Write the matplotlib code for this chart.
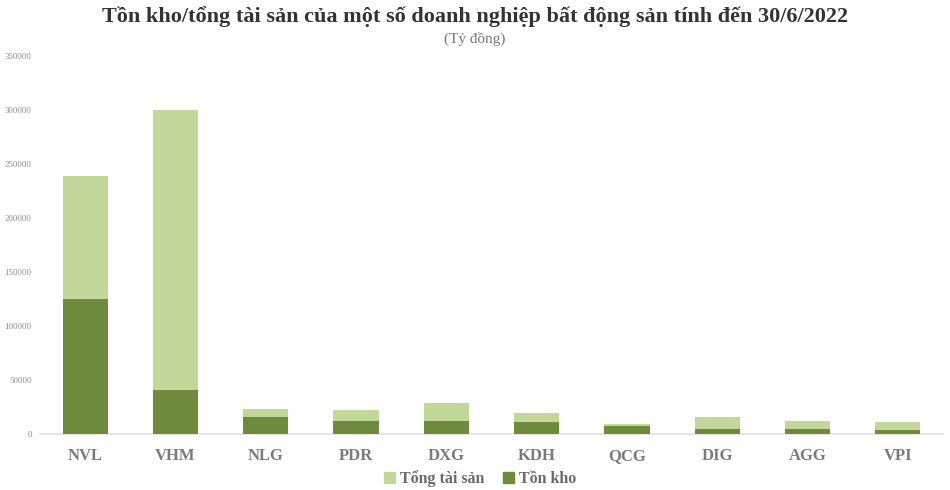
import matplotlib
matplotlib.use("Agg")
import matplotlib.pyplot as plt
from matplotlib.patches import Patch

categories = ["NVL", "VHM", "NLG", "PDR", "DXG", "KDH", "QCG", "DIG", "AGG", "VPI"]
tong_tai_san = [239000, 300000, 23000, 22000, 29000, 19000, 9000, 15500, 12300, 10800]
ton_kho = [125000, 41000, 16000, 12500, 12000, 11500, 7000, 4700, 4800, 3700]
yticks = [0, 50000, 100000, 150000, 200000, 250000, 300000, 350000]

light = "#c4d79b"
dark = "#6e8b3d"
serif = ["Liberation Serif", "DejaVu Serif"]

fig = plt.figure(figsize=(9.5, 4.9), dpi=100)
ax = fig.add_axes([40/950, 56/490, 903/950, 378/490])

x = list(range(len(categories)))
ax.bar(x, tong_tai_san, width=0.5, color=light, zorder=2)
ax.bar(x, ton_kho, width=0.5, color=dark, zorder=3)

ax.set_xlim(-0.5, len(categories) - 0.5)
ax.set_ylim(0, 350000)
ax.set_yticks(yticks)
ax.set_yticklabels([str(v) for v in yticks], fontsize=6.3, color="#8a8a8a", family=serif)
ax.set_xticks(x)
ax.set_xticklabels(categories, fontsize=12, fontweight="bold", color="#7a7a7a", family=serif)
ax.tick_params(axis="y", length=0, pad=6)
ax.tick_params(axis="x", length=0, pad=10)
for s in ["top", "right", "left"]:
    ax.spines[s].set_visible(False)
ax.spines["bottom"].set_color("#e0e0e0")
ax.spines["bottom"].set_linewidth(1.2)

fig.text(0.5, 1 - 17/490, "Tồn kho/tổng tài sản của một số doanh nghiệp bất động sản tính đến 30/6/2022",
         ha="center", va="center", fontsize=16, fontweight="bold", color="#333333", family=serif)
fig.text(0.5, 1 - 39/490, "(Tỷ đồng)", ha="center", va="center", fontsize=11,
         color="#777777", family=serif)

handles = [Patch(color=light, label="Tổng tài sản"), Patch(color=dark, label="Tồn kho")]
fig.legend(handles=handles, loc="center", bbox_to_anchor=(480/950, 1 - 479/490), ncol=2,
           frameon=False, handlelength=0.7, handleheight=0.7, handletextpad=0.3, columnspacing=1.2,
           prop={"family": serif, "weight": "bold", "size": 11.5}, labelcolor="#6a6a6a")

fig.savefig("out.png", dpi=100, facecolor="white")
